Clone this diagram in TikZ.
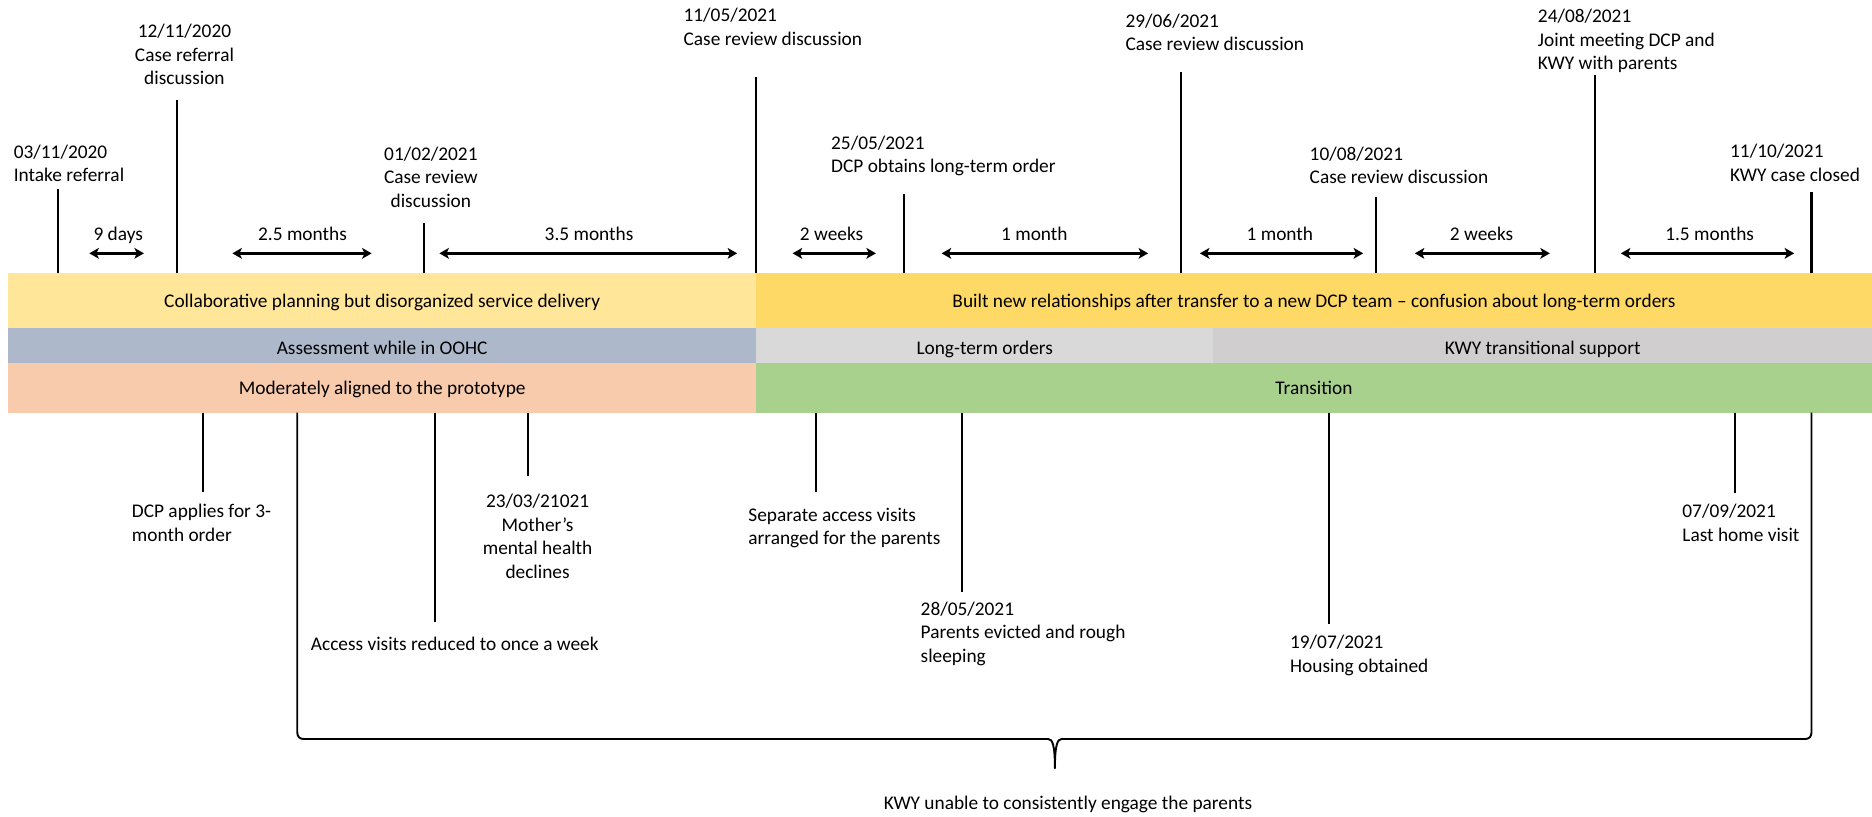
\documentclass[tikz,border=0pt]{standalone}
\usepackage{fontspec}
\setmainfont{Carlito}
\usetikzlibrary{arrows.meta}
\definecolor{planA}{HTML}{FFE699}
\definecolor{planB}{HTML}{FFD966}
\definecolor{phaseA}{HTML}{ADB9CA}
\definecolor{phaseB}{HTML}{D9D9D9}
\definecolor{phaseC}{HTML}{D0CECE}
\definecolor{fitA}{HTML}{F8CBAD}
\definecolor{fitB}{HTML}{A9D18E}

\begin{document}
\begin{tikzpicture}[x=1pt,y=-1pt,
  txt/.style={font=\fontsize{16.2}{19.6}\selectfont, inner sep=0pt, text=black},
  evl/.style={txt, anchor=north west, align=left},
  evc/.style={txt, anchor=north, align=center},
  bandlbl/.style={txt, anchor=base},
  tick/.style={line width=1.7pt, black},
  gap/.style={line width=2pt,
    {Stealth[length=8pt,width=9pt,inset=2pt]}-{Stealth[length=8pt,width=9pt,inset=2pt]}},
  brace/.style={line width=1.6pt, line join=round}
]
\useasboundingbox (0,0) rectangle (1568,684);

% ---- coloured bands ----
\fill[planA]  (7,229)      rectangle (633.2,274.9);
\fill[planB]  (633.2,229)  rectangle (1568,274.9);
\fill[phaseA] (7,274.9)    rectangle (633.2,304);
\fill[phaseB] (633.2,274.9) rectangle (1016.4,304);
\fill[phaseC] (1016.4,274.9) rectangle (1568,304);
\fill[fitA]   (7,304)      rectangle (633.2,345.6);
\fill[fitB]   (633.2,304)  rectangle (1568,345.6);

\node[bandlbl] (b1a) at (320.1,257.7) {Collaborative planning but disorganized service delivery};
\node[bandlbl] (b1b) at (1100.6,257.7) {Built new relationships after transfer to a new DCP team – confusion about long-term orders};
\node[bandlbl] (b2a) at (320.1,297.3) {Assessment while in OOHC};
\node[bandlbl] (b2b) at (824.8,297.3) {Long-term orders};
\node[bandlbl] (b2c) at (1292.2,297.3) {KWY transitional support};
\node[bandlbl] (b3a) at (320.1,330.2) {Moderately aligned to the prototype};
\node[bandlbl] (b3b) at (1100.6,330.2) {Transition};

% ---- events above the bands ----
\draw[tick] (48.3,229)   -- (48.3,158.6);
\draw[tick] (148,229)    -- (148,83.8);
\draw[tick] (355.1,229)  -- (355.1,186.5);
\draw[tick] (633.2,229)  -- (633.2,64.2);
\draw[tick] (757.1,229)  -- (757.1,162.8);
\draw[tick] (989.1,229)  -- (989.1,60);
\draw[tick] (1152.4,229) -- (1152.4,164.7);
\draw[tick] (1335.8,229) -- (1335.8,62.8);
\draw[tick] (1517.3,229) -- (1517.3,160.5);

\node[evl] (e1) at (11.4,118.9)  {\strut 03/11/2020\\Intake referral};
\node[evc] (e2) at (154.5,17.8)  {\strut 12/11/2020\\Case referral\\discussion};
\node[evc] (e3) at (360.9,120.3) {\strut 01/02/2021\\Case review\\discussion};
\node[evl] (e4) at (572.4,4.3)   {\strut 11/05/2021\\Case review discussion};
\node[evl] (e5) at (696,111.3)   {\strut 25/05/2021\\DCP obtains long-term order};
\node[evl] (e6) at (942.6,8.9)   {\strut 29/06/2021\\Case review discussion};
\node[evl] (e7) at (1096.8,120.3) {\strut 10/08/2021\\Case review discussion};
\node[evl] (e8) at (1288,5.3)    {\strut 24/08/2021\\Joint meeting DCP and\\KWY with parents};
\node[evl] (e9) at (1449,118.3)  {\strut 11/10/2021\\KWY case closed};

% ---- intervals ----
\draw[gap] (74.8,212.2)  -- (120.6,212.2);
\draw[gap] (194.6,212.2) -- (311.3,212.2);
\draw[gap] (368,212.2)   -- (617.5,212.2);
\draw[gap] (663.9,212.2) -- (733.7,212.2);
\draw[gap] (788.7,212.2) -- (961.7,212.2);
\draw[gap] (1005,212.2)  -- (1141.8,212.2);
\draw[gap] (1185,212.2)  -- (1298.2,212.2);
\draw[gap] (1357.6,212.2) -- (1502.8,212.2);

\node[evc] (g1) at (99,187.8)     {\strut 9 days};
\node[evc] (g2) at (253.4,187.8)  {\strut 2.5 months};
\node[evc] (g3) at (493.4,187.8)  {\strut 3.5 months};
\node[evc] (g4) at (696.5,187.8)  {\strut 2 weeks};
\node[evc] (g5) at (866.4,187.8)  {\strut 1 month};
\node[evc] (g6) at (1072,187.8)   {\strut 1 month};
\node[evc] (g7) at (1241,187.8)   {\strut 2 weeks};
\node[evc] (g8) at (1432,187.8)   {\strut 1.5 months};

% ---- events below the bands ----
\draw[tick] (169.8,345.6)  -- (169.8,411.8);
\draw[tick] (364.7,345.6)  -- (364.7,520.7);
\draw[tick] (442,345.6)    -- (442,398.7);
\draw[tick] (683.7,345.6)  -- (683.7,411.8);
\draw[tick] (805.4,345.6)  -- (805.4,495.5);
\draw[tick] (1113,345.6)   -- (1113,522.9);
\draw[tick] (1452.9,345.6) -- (1452.9,413.2);

\node[evl] (f1) at (110.3,419.8) {\strut DCP applies for 3-\\month order};
\node[evl] (f2) at (260.2,530.7) {\strut Access visits reduced to once a week};
\node[evc] (f3) at (450.3,411.5) {\strut 23/03/21021\\Mother’s\\mental health\\declines};
\node[evl] (f4) at (626.7,422.6) {\strut Separate access visits\\arranged for the parents};
\node[evl] (f5) at (771,501.6)   {\strut 28/05/2021\\Parents evicted and rough\\sleeping};
\node[evl] (f6) at (1080.4,529.6) {\strut 19/07/2021\\Housing obtained};
\node[evl] (f7) at (1409,419.8)  {\strut 07/09/2021\\Last home visit};

% ---- brace spanning the KWY period ----
\draw[brace] (249,345.6) -- (249,613.5)
  .. controls (249,617) and (251,619) .. (254.5,619)
  -- (878,619)
  .. controls (881.5,619) and (883.6,624) .. (883.6,643.5)
  .. controls (883.6,624) and (885.7,619) .. (889.2,619)
  -- (1511.8,619)
  .. controls (1515.3,619) and (1517.3,617) .. (1517.3,613.5)
  -- (1517.3,345.6);
\node[evc] (k1) at (894.5,664.1) {\strut KWY unable to consistently engage the parents};
\end{tikzpicture}
\end{document}
